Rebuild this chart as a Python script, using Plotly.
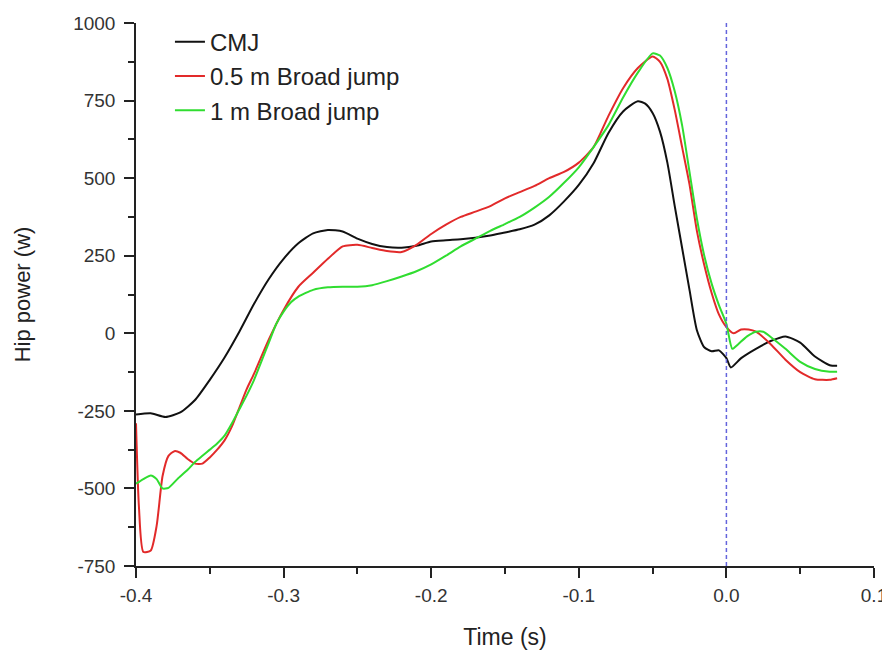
import plotly.graph_objects as go

# ---- data ----
cmj_t = [-0.400, -0.390, -0.380, -0.370, -0.360, -0.350, -0.340, -0.330, -0.320, -0.310,
         -0.300, -0.290, -0.280, -0.270, -0.260, -0.250, -0.240, -0.230, -0.220, -0.210,
         -0.200, -0.190, -0.180, -0.170, -0.160, -0.150, -0.140, -0.130, -0.120, -0.110,
         -0.100, -0.090, -0.080, -0.070, -0.060, -0.055, -0.050, -0.045, -0.040, -0.035,
         -0.030, -0.025, -0.020, -0.015, -0.010, -0.005, 0.000, 0.003, 0.010, 0.020,
         0.030, 0.040, 0.050, 0.060, 0.070, 0.075]
cmj_p = [-262, -258, -270, -255, -215, -150, -78, 5, 95, 175,
         240, 290, 322, 333, 328, 305, 288, 278, 276, 282,
         296, 300, 303, 308, 315, 325, 335, 350, 380, 425,
         478, 548, 645, 715, 748, 740, 710, 650, 550, 410,
         275, 140, 10, -45, -58, -55, -80, -110, -80, -50,
         -25, -10, -30, -75, -103, -105]

b05_t = [-0.400, -0.398, -0.395, -0.390, -0.386, -0.382, -0.378, -0.374, -0.370, -0.365,
         -0.360, -0.355, -0.350, -0.345, -0.340, -0.335, -0.330, -0.325, -0.320, -0.310,
         -0.300, -0.290, -0.280, -0.270, -0.260, -0.250, -0.240, -0.230, -0.220, -0.210,
         -0.200, -0.190, -0.180, -0.170, -0.160, -0.150, -0.140, -0.130, -0.120, -0.110,
         -0.100, -0.090, -0.080, -0.070, -0.060, -0.050, -0.045, -0.040, -0.035, -0.030,
         -0.025, -0.020, -0.015, -0.010, -0.005, 0.000, 0.005, 0.010, 0.015, 0.020,
         0.030, 0.040, 0.050, 0.060, 0.070, 0.075]
b05_p = [-290, -560, -705, -700, -620, -460, -395, -380, -385, -405,
         -420, -420, -400, -375, -345, -300, -240, -180, -130, -20,
         75, 150, 195, 240, 280, 285, 275, 265, 262, 285,
         320, 350, 375, 392, 410, 435, 455, 475, 500, 520,
         550, 600, 700, 790, 855, 892, 875, 820, 720, 600,
         480, 330, 220, 130, 60, 20, 0, 12, 12, 5,
         -35, -85, -125, -148, -150, -145]

b1_t = [-0.400, -0.395, -0.390, -0.386, -0.382, -0.378, -0.372, -0.365, -0.360, -0.355,
        -0.350, -0.345, -0.340, -0.335, -0.330, -0.325, -0.320, -0.310, -0.305, -0.300,
        -0.295, -0.290, -0.285, -0.280, -0.270, -0.260, -0.250, -0.240, -0.230, -0.220,
        -0.210, -0.200, -0.190, -0.180, -0.170, -0.160, -0.150, -0.140, -0.130, -0.120,
        -0.110, -0.100, -0.090, -0.080, -0.070, -0.060, -0.050, -0.045, -0.040, -0.035,
        -0.030, -0.025, -0.020, -0.015, -0.010, -0.005, 0.000, 0.004, 0.008, 0.014,
        0.020, 0.025, 0.030, 0.040, 0.050, 0.060, 0.070, 0.075]
b1_p = [-485, -470, -458, -470, -500, -498, -470, -440, -415, -395,
        -375, -355, -330, -290, -245, -200, -150, -30, 30, 70,
        100, 118, 130, 140, 148, 150, 150, 155, 168, 183,
        200, 222, 250, 280, 305, 330, 352, 375, 405, 440,
        485, 535, 600, 670, 760, 840, 902, 895, 855, 780,
        670, 520, 370, 250, 160, 90, 30, -50, -35, -10,
        5, 5, -12, -50, -92, -115, -124, -124]

series_names = ["CMJ", "0.5 m Broad jump", "1 m Broad jump"]
series_colors = ["#111111", "#e22a2a", "#30dd30"]

x_ticks = [-0.4, -0.3, -0.2, -0.1, 0.0, 0.1]
x_tick_labels = ["-0.4", "-0.3", "-0.2", "-0.1", "0.0", "0.1"]
y_ticks = [-750, -500, -250, 0, 250, 500, 750, 1000]
y_tick_labels = ["-750", "-500", "-250", "0", "250", "500", "750", "1000"]

FONT = "Liberation Sans, Arial, sans-serif"
AX = "#222222"

fig = go.Figure()
for t, p, name, col in zip([cmj_t, b05_t, b1_t], [cmj_p, b05_p, b1_p], series_names, series_colors):
    fig.add_trace(go.Scatter(x=t, y=p, mode="lines", name=name,
                             line=dict(color=col, width=2, shape="spline", smoothing=0.6),
                             legendgroup=name))

# vertical dashed line at take-off (t = 0)
fig.add_trace(go.Scatter(x=[0.0, 0.0], y=[-750, 1000], mode="lines", showlegend=False,
                         line=dict(color="#6464dc", width=1.5, dash="4px,3px")))

fig.update_layout(
    width=890, height=655,
    margin=dict(l=128, r=24, t=15, b=97),
    paper_bgcolor="white", plot_bgcolor="white",
    font=dict(family=FONT, size=19, color="#333333"),
    showlegend=True,
    legend=dict(x=0.046, y=1.006, xanchor="left", yanchor="top",
                font=dict(family=FONT, size=24, color="#222222"),
                bgcolor="rgba(0,0,0,0)", tracegroupgap=0),
    xaxis=dict(range=[-0.4, 0.1], tickvals=x_ticks, ticktext=x_tick_labels, automargin=False,
               showgrid=False, zeroline=False, showline=True, linecolor=AX, linewidth=1.5,
               ticks="outside", ticklen=10, tickwidth=1.5, tickcolor=AX,
               tickfont=dict(family=FONT, size=19, color="#333333"),
               ticklabelstandoff=1,
               minor=dict(dtick=0.05, tick0=0, ticks="outside", ticklen=6, tickwidth=1.5, tickcolor=AX),
               title=dict(text="Time (s)", font=dict(family=FONT, size=23, color="#222222"), standoff=24)),
    yaxis=dict(range=[-750, 1000], tickvals=y_ticks, ticktext=y_tick_labels, automargin=False,
               showgrid=False, zeroline=False, showline=True, linecolor=AX, linewidth=1.5,
               ticks="outside", ticklen=10, tickwidth=1.5, tickcolor=AX,
               tickfont=dict(family=FONT, size=19, color="#333333"),
               ticklabelstandoff=5,
               minor=dict(dtick=125, tick0=0, ticks="outside", ticklen=6, tickwidth=1.5, tickcolor=AX),
               title=dict(text="Hip power (w)", font=dict(family=FONT, size=22, color="#222222"), standoff=36)),
)

fig.write_html("out.html")
